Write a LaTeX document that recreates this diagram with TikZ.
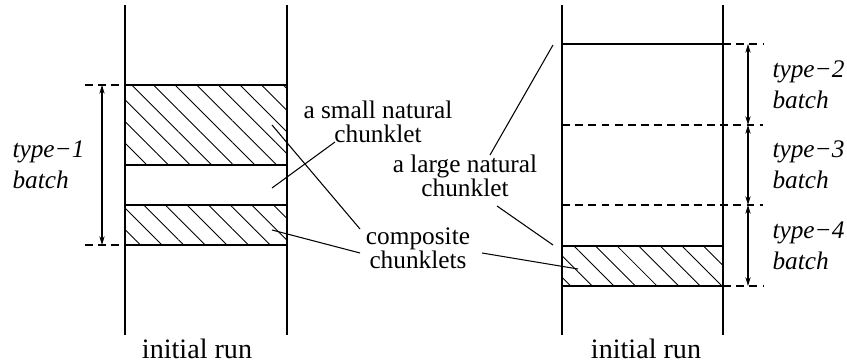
\documentclass[tikz,border=0pt]{standalone}
\usepackage{fontspec}
\setmainfont{Liberation Serif}
\usetikzlibrary{arrows.meta,patterns.meta}

\begin{document}
\begin{tikzpicture}[line width=0.6pt,
  hatch/.style={line width=0.8pt, pattern={Lines[angle=-45,distance=8.7pt,line width=0.5pt]}},
  ext/.style={dash pattern=on 4.5pt off 3pt},
  span/.style={{Stealth[length=5pt,width=3pt]}-{Stealth[length=5pt,width=3pt]}},
  lbl/.style={align=center, font=\fontsize{14.4}{13.5}\selectfont, inner sep=0pt},
  kind/.style={align=left, anchor=west, font=\fontsize{14.4}{17.6}\selectfont\itshape, inner sep=0pt},
  runlbl/.style={anchor=base, font=\fontsize{16}{18}\selectfont, inner sep=0pt}]
  \useasboundingbox (0,0) rectangle (16.94,7.28);
  % left initial run
  \draw (2.5,0.58) -- (2.5,7.18);
  \draw (5.74,0.58) -- (5.74,7.18);
  \draw[hatch] (2.5,3.98) rectangle (5.74,5.58);
  \draw[hatch] (2.5,2.38) rectangle (5.74,3.18);
  \draw[ext] (1.7,5.58) -- (2.5,5.58);
  \draw[ext] (1.7,2.38) -- (2.5,2.38);
  \coordinate (t1top) at (2.04,5.58);
  \coordinate (t1bot) at (2.04,2.38);
  \draw[span] (t1top) -- (t1bot);
  \node[kind] (type1) at (0.24,3.98) {type−1\\batch};
  \node[runlbl] (runA) at (3.94,0.1) {initial run};
  % right initial run
  \draw (11.24,0.58) -- (11.24,7.18);
  \draw (14.46,0.58) -- (14.46,7.18);
  \draw[line width=0.8pt] (11.24,6.4) -- (14.46,6.4);
  \draw[ext] (14.46,6.4) -- (15.26,6.4);
  \draw[ext] (11.24,4.78) -- (15.26,4.78);
  \draw[ext] (11.24,3.18) -- (15.26,3.18);
  \draw[hatch] (11.24,1.56) rectangle (14.46,2.36);
  \draw[ext] (14.46,1.56) -- (15.26,1.56);
  \coordinate (b2) at (14.96,6.4);
  \coordinate (b3) at (14.96,4.78);
  \coordinate (b4) at (14.96,3.18);
  \coordinate (b5) at (14.96,1.56);
  \draw[span] (b2) -- (b3);
  \draw[span] (b3) -- (b4);
  \draw[span] (b4) -- (b5);
  \node[kind] (type2) at (15.44,5.59) {type−2\\batch};
  \node[kind] (type3) at (15.44,3.98) {type−3\\batch};
  \node[kind] (type4) at (15.44,2.37) {type−4\\batch};
  \node[runlbl] (runB) at (12.92,0.1) {initial run};
  % labels and leaders
  \node[lbl] (small) at (7.56,4.84) {a small natural\\chunklet};
  \node[lbl] (large) at (9.30,3.76) {a large natural\\chunklet};
  \node[lbl] (comp) at (8.36,2.32) {composite\\chunklets};
  \coordinate (gapA) at (5.44,3.52);
  \coordinate (hatA) at (5.44,4.78);
  \coordinate (hatB) at (5.44,2.68);
  \coordinate (hatC) at (11.56,1.9);
  \coordinate (gapB) at (11.06,6.38);
  \coordinate (gapC) at (11.06,2.38);
  \draw ([shift={(-0.86,-0.40)}]small.center) -- (gapA);
  \draw ([shift={(-1.16,0.38)}]comp.center) -- (hatA);
  \draw ([shift={(-1.16,-0.10)}]comp.center) -- (hatB);
  \draw ([shift={(1.28,-0.10)}]comp.center) -- (hatC);
  \draw ([shift={(0.50,0.42)}]large.center) -- (gapB);
  \draw ([shift={(0.64,-0.60)}]large.center) -- (gapC);
\end{tikzpicture}
\end{document}
